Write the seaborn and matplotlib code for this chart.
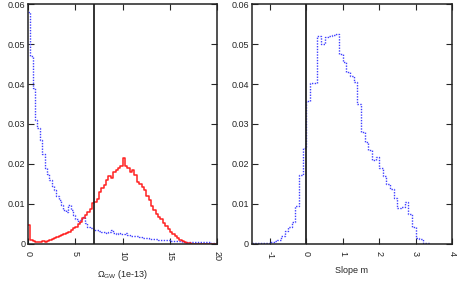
import numpy as np
import pandas as pd
import matplotlib
matplotlib.use('Agg')
import matplotlib.pyplot as plt
import seaborn as sns

# Left panel: Omega_GW histograms, bins of 0.25 from 0 to 20
omega_edges = np.arange(0, 20.01, 0.25)
omega_blue = [
    0.0580, 0.0470, 0.0390, 0.0310, 0.0290, 0.0260, 0.0225, 0.0190,
    0.0175, 0.0160, 0.0145, 0.0135, 0.0120, 0.0110, 0.0098, 0.0085,
    0.0080, 0.0097, 0.0085, 0.0072, 0.0062, 0.0056, 0.0060, 0.0068,
    0.0052, 0.0043, 0.0040, 0.0037, 0.0035, 0.0034, 0.0033, 0.0031,
    0.0029, 0.0028, 0.0030, 0.0034, 0.0027, 0.0025, 0.0027, 0.0024,
    0.0026, 0.0028, 0.0022, 0.0021, 0.0020, 0.0019, 0.0019, 0.0017,
    0.0016, 0.0015, 0.0015, 0.0013, 0.0013, 0.0012, 0.0012, 0.0010,
    0.0010, 0.0010, 0.0009, 0.0009, 0.0008, 0.0008, 0.0008, 0.0007,
    0.0007, 0.0006, 0.0006, 0.0006, 0.0005, 0.0005, 0.0005, 0.0005,
    0.0005, 0.0004, 0.0004, 0.0004, 0.0004, 0.0003, 0.0003, 0.0003,
]
omega_red = [
    0.0048, 0.0010, 0.0007, 0.0005, 0.0004, 0.0006, 0.0007, 0.0006,
    0.0008, 0.0010, 0.0013, 0.0015, 0.0018, 0.0021, 0.0023, 0.0025,
    0.0028, 0.0031, 0.0035, 0.0039, 0.0043, 0.0049, 0.0056, 0.0064,
    0.0072, 0.0080, 0.0088, 0.0102, 0.0106, 0.0112, 0.0131, 0.0140,
    0.0148, 0.0160, 0.0170, 0.0165, 0.0180, 0.0185, 0.0190, 0.0196,
    0.0214, 0.0195, 0.0190, 0.0180, 0.0184, 0.0172, 0.0156, 0.0150,
    0.0143, 0.0135, 0.0120, 0.0110, 0.0095, 0.0085, 0.0075, 0.0068,
    0.0062, 0.0052, 0.0046, 0.0038, 0.0031, 0.0025, 0.0019, 0.0014,
    0.0010, 0.0007, 0.0005, 0.0003, 0.0002, 0.0001, 0.0001, 0.0000,
    0.0000, 0.0000, 0.0000, 0.0000, 0.0000, 0.0000, 0.0000, 0.0000,
]
omega_cut = 7.0

# Right panel: slope m histogram, bins of 0.1 from -1.5 to 3.4
slope_edges = np.round(np.arange(-1.5, 3.41, 0.1), 2)
slope_blue = [
    0.0002, 0.0002, 0.0002, 0.0003, 0.0003, 0.0006, 0.0008, 0.0010,
    0.0020, 0.0033, 0.0043, 0.0055, 0.0095, 0.0173, 0.0240, 0.0357,
    0.0403, 0.0403, 0.0519, 0.0500, 0.0518, 0.0520, 0.0522, 0.0525,
    0.0475, 0.0455, 0.0430, 0.0420, 0.0405, 0.0350, 0.0280, 0.0255,
    0.0235, 0.0210, 0.0218, 0.0190, 0.0171, 0.0150, 0.0137, 0.0114,
    0.0090, 0.0092, 0.0106, 0.0076, 0.0043, 0.0014, 0.0012, 0.0003,
    0.0002,
]
slope_cut = 0.0

yticks = [0, 0.01, 0.02, 0.03, 0.04, 0.05, 0.06]
ytick_labels = ['0', '0.01', '0.02', '0.03', '0.04', '0.05', '0.06']

sns.set_style('ticks')
plt.rcParams['font.family'] = ['Liberation Sans', 'DejaVu Sans']
plt.rcParams['mathtext.fontset'] = 'custom'
plt.rcParams['mathtext.rm'] = 'Liberation Sans'

fig = plt.figure(figsize=(4.57, 2.89), dpi=100)
ax1 = fig.add_axes([0.0613, 0.156, 0.414, 0.830])
ax2 = fig.add_axes([0.551, 0.156, 0.438, 0.830])

omega_centers = (omega_edges[:-1] + omega_edges[1:]) / 2
slope_centers = (slope_edges[:-1] + slope_edges[1:]) / 2

df_omega = pd.DataFrame({'x': omega_centers, 'blue': omega_blue, 'red': omega_red})
df_slope = pd.DataFrame({'x': slope_centers, 'blue': slope_blue})

sns.histplot(data=df_omega, x='x', weights='blue', bins=list(omega_edges), element='step',
             fill=False, color='#4040ff', linestyle=(0, (1, 1)), linewidth=1.0, ax=ax1)
sns.histplot(data=df_omega, x='x', weights='red', bins=list(omega_edges), element='step',
             fill=False, color='#ff2020', linewidth=1.1, ax=ax1)
ax1.axvline(omega_cut, color='#222222', linewidth=1.3)

sns.histplot(data=df_slope, x='x', weights='blue', bins=list(slope_edges), element='step',
             fill=False, color='#4040ff', linestyle=(0, (1, 1)), linewidth=1.0, ax=ax2)
ax2.axvline(slope_cut, color='#222222', linewidth=1.3)

ax1.set_xlim(0, 20)
ax1.set_xticks([0, 5, 10, 15, 20])
ax1.set_xticklabels(['0', '5', '10', '15', '20'])
ax1.set_xlabel(r'$\mathregular{\Omega_{GW}}$ (1e-13)', fontsize=6.5, labelpad=5)

ax2.set_xlim(-1.5, 4)
ax2.set_xticks([-1, 0, 1, 2, 3, 4])
ax2.set_xticklabels(['-1', '0', '1', '2', '3', '4'])
ax2.set_xlabel('Slope m', fontsize=6.5, labelpad=5)

for ax in (ax1, ax2):
    ax.set_ylim(0, 0.06)
    ax.set_yticks(yticks)
    ax.set_yticklabels(ytick_labels)
    ax.set_ylabel('')
    ax.tick_params(direction='in', top=True, right=True, length=4, width=0.8,
                   labelsize=6.5)
    ax.tick_params(axis='y', pad=2)
    ax.tick_params(axis='x', labelrotation=270, pad=5)
    for s in ax.spines.values():
        s.set_linewidth(1.1)
        s.set_color('#222222')

fig.savefig('out.png', dpi=100)
